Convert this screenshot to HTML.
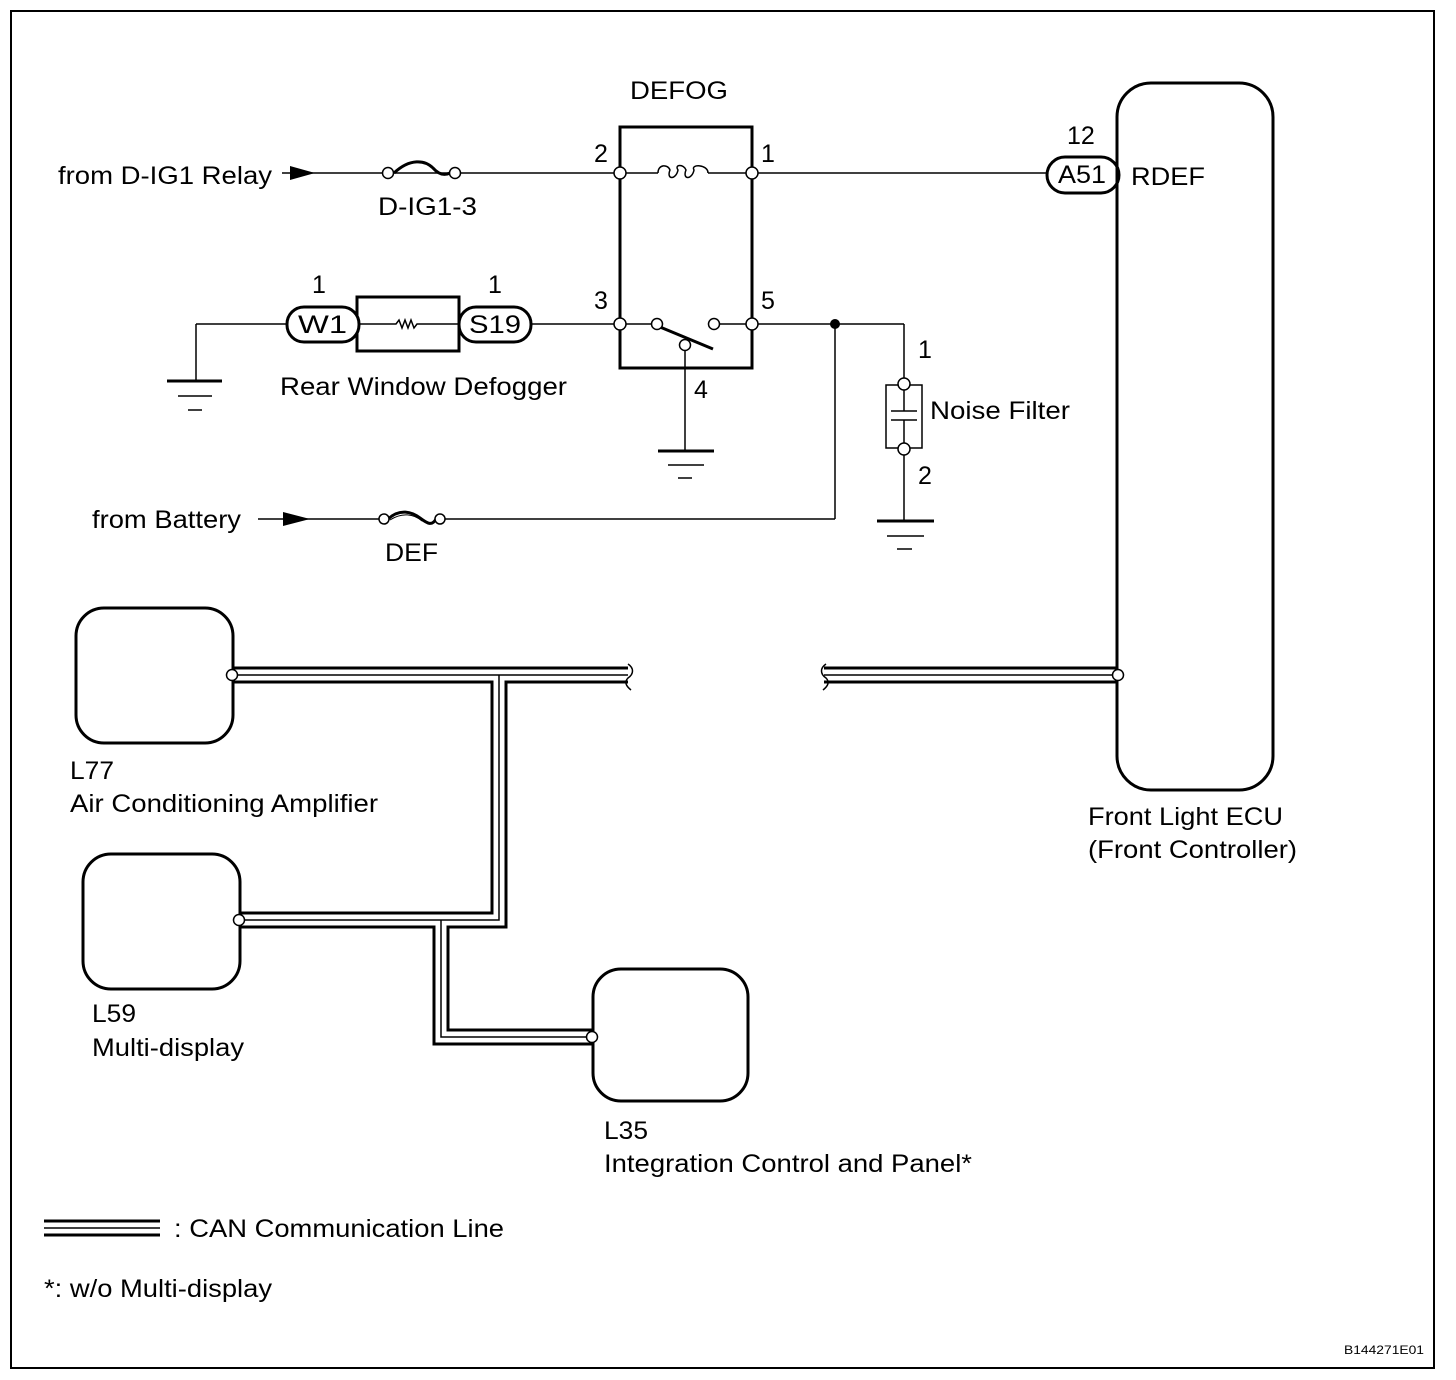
<!DOCTYPE html>
<html><head><style>
html,body{margin:0;padding:0;background:#fff}
svg{display:block}
text{font-family:"Liberation Sans",Arial,sans-serif;font-size:25px;fill:#000}
</style></head><body>
<svg width="1456" height="1380" viewBox="0 0 1456 1380" xmlns="http://www.w3.org/2000/svg">
<rect x="11" y="11" width="1423" height="1357" fill="none" stroke="#000" stroke-width="2"/>
<g fill="none" stroke="#000" stroke-width="1.5">
<line x1="282" y1="173" x2="658" y2="173"/>
<line x1="708" y1="173" x2="1047" y2="173"/>
<path d="M394 173 C410 158 425 160 433 168 C440 176 446 175 450 173" stroke-width="3"/>
<rect x="620" y="127" width="132" height="241" stroke-width="3"/>
<path d="M658 173 C658 164 668 164 670 170 C666 180 676 180 678 170 C674 164 684 164 686 170 C682 180 692 180 694 170 C690 164 708 164 708 173"/>
<line x1="620" y1="324" x2="652" y2="324"/>
<line x1="720" y1="324" x2="752" y2="324"/>
<line x1="660" y1="327" x2="713" y2="349" stroke-width="3"/>
<line x1="685" y1="348" x2="685" y2="451"/>
<line x1="658" y1="451" x2="714" y2="451" stroke-width="3"/>
<line x1="668" y1="465" x2="704" y2="465"/>
<line x1="678" y1="478" x2="692" y2="478"/>
<line x1="196" y1="324" x2="287" y2="324"/>
<line x1="196" y1="324" x2="196" y2="380"/>
<line x1="167" y1="381" x2="222" y2="381" stroke-width="3"/>
<line x1="178" y1="396" x2="212" y2="396"/>
<line x1="188" y1="410" x2="202" y2="410"/>
<rect x="357" y="297" width="102" height="54" stroke-width="3"/>
<path d="M357 324 H396 L399 320 L402 328 L405 320 L408 328 L411 320 L414 328 L417 324 H459"/>
<rect x="287" y="307" width="72" height="35" rx="17" stroke-width="3" fill="#fff"/>
<rect x="459" y="307" width="72" height="35" rx="17" stroke-width="3" fill="#fff"/>
<line x1="531" y1="324" x2="620" y2="324"/>
<line x1="752" y1="324" x2="904" y2="324"/>
<line x1="835" y1="324" x2="835" y2="519"/>
<line x1="904" y1="324" x2="904" y2="378"/>
<rect x="886" y="385" width="36" height="63"/>
<line x1="904" y1="390" x2="904" y2="411"/>
<line x1="904" y1="420" x2="904" y2="443"/>
<line x1="891" y1="411" x2="917" y2="411"/>
<line x1="891" y1="420" x2="917" y2="420"/>
<line x1="904" y1="455" x2="904" y2="521"/>
<line x1="877" y1="521" x2="934" y2="521" stroke-width="3"/>
<line x1="887" y1="536" x2="924" y2="536"/>
<line x1="897" y1="549" x2="912" y2="549"/>
<line x1="258" y1="519" x2="383" y2="519"/>
<line x1="440" y1="519" x2="835" y2="519"/>
<path d="M388 519 C400 508 412 512 420 518 C428 524 432 526 436 519" stroke-width="3"/>
<path d="M390 520 C402 512 414 514 422 521" stroke-width="1"/>
<rect x="1047" y="157" width="72" height="36" rx="18" stroke-width="3" fill="#fff"/>
<rect x="1117" y="83" width="156" height="707" rx="34" stroke-width="3"/>
<rect x="76" y="608" width="157" height="135" rx="28" stroke-width="3"/>
<rect x="83" y="854" width="157" height="135" rx="28" stroke-width="3"/>
<rect x="593" y="969" width="155" height="132" rx="28" stroke-width="3"/>
</g>
<polygon points="290,166 315,173 290,180" fill="#000"/>
<polygon points="283,512 310,519 283,526" fill="#000"/>
<g fill="#fff" stroke="#000" stroke-width="1.5">
<circle cx="388" cy="173" r="5.5"/><circle cx="455" cy="173" r="5.5"/>
<circle cx="620" cy="173" r="6"/><circle cx="752" cy="173" r="6"/>
<circle cx="620" cy="324" r="6"/><circle cx="752" cy="324" r="6"/>
<circle cx="657" cy="324" r="5.5"/><circle cx="714" cy="324" r="5.5"/>
<circle cx="685" cy="345" r="5.5"/>
<circle cx="904" cy="384" r="6"/><circle cx="904" cy="449" r="6"/>
<circle cx="384" cy="519" r="5"/><circle cx="440" cy="519" r="5"/>
</g>
<circle cx="835" cy="324" r="5" fill="#000"/>
<g fill="none" stroke-linejoin="miter">
<g stroke="#000" stroke-width="17">
<path d="M232 675 H628 M824 675 H1118 M499 675 V920 H239 M441 920 V1037 H592"/>
<path d="M44 1228 H160"/>
</g>
<g stroke="#fff" stroke-width="11">
<path d="M232 675 H628 M824 675 H1118 M499 675 V920 H239 M441 920 V1037 H592"/>
<path d="M44 1228 H160"/>
</g>
<g stroke="#000" stroke-width="1.5">
<path d="M232 675 H628 M824 675 H1118 M499 675 V920 H239 M441 920 V1037 H592"/>
<path d="M44 1228 H160"/>
</g>
<path d="M628 664 C634 668 634 674 628 678 C624 682 626 686 631 690" stroke="#000" stroke-width="1.5"/>
<path d="M826 664 C820 668 820 674 826 678 C830 682 828 686 823 690" stroke="#000" stroke-width="1.5"/>
</g>
<g fill="#fff" stroke="#000" stroke-width="1.5">
<circle cx="232" cy="675" r="5.5"/><circle cx="239" cy="920" r="5.5"/>
<circle cx="592" cy="1037" r="5.5"/><circle cx="1118" cy="675" r="5.5"/>
</g>
<text x="630" y="99" textLength="98" lengthAdjust="spacingAndGlyphs">DEFOG</text>
<text x="58" y="184" textLength="214" lengthAdjust="spacingAndGlyphs">from D-IG1 Relay</text>
<text x="378" y="215" textLength="99" lengthAdjust="spacingAndGlyphs">D-IG1-3</text>
<text x="594" y="162">2</text>
<text x="761" y="162">1</text>
<text x="594" y="309">3</text>
<text x="761" y="309">5</text>
<text x="694" y="398">4</text>
<text x="312" y="293">1</text>
<text x="488" y="293">1</text>
<text x="298" y="333" textLength="49" lengthAdjust="spacingAndGlyphs">W1</text>
<text x="469" y="333" textLength="52" lengthAdjust="spacingAndGlyphs">S19</text>
<text x="280" y="395" textLength="287" lengthAdjust="spacingAndGlyphs">Rear Window Defogger</text>
<text x="918" y="358">1</text>
<text x="918" y="484">2</text>
<text x="930" y="419" textLength="140" lengthAdjust="spacingAndGlyphs">Noise Filter</text>
<text x="92" y="528" textLength="149" lengthAdjust="spacingAndGlyphs">from Battery</text>
<text x="385" y="561" textLength="53" lengthAdjust="spacingAndGlyphs">DEF</text>
<text x="1067" y="144">12</text>
<text x="1058" y="183" textLength="48" lengthAdjust="spacingAndGlyphs">A51</text>
<text x="1131" y="185" textLength="74" lengthAdjust="spacingAndGlyphs">RDEF</text>
<text x="70" y="779" textLength="44" lengthAdjust="spacingAndGlyphs">L77</text>
<text x="70" y="812" textLength="308" lengthAdjust="spacingAndGlyphs">Air Conditioning Amplifier</text>
<text x="92" y="1022" textLength="44" lengthAdjust="spacingAndGlyphs">L59</text>
<text x="92" y="1056" textLength="152" lengthAdjust="spacingAndGlyphs">Multi-display</text>
<text x="604" y="1139" textLength="44" lengthAdjust="spacingAndGlyphs">L35</text>
<text x="604" y="1172" textLength="368" lengthAdjust="spacingAndGlyphs">Integration Control and Panel*</text>
<text x="1088" y="825" textLength="195" lengthAdjust="spacingAndGlyphs">Front Light ECU</text>
<text x="1088" y="858" textLength="209" lengthAdjust="spacingAndGlyphs">(Front Controller)</text>
<text x="174" y="1237" textLength="330" lengthAdjust="spacingAndGlyphs">: CAN Communication Line</text>
<text x="44" y="1297" textLength="228" lengthAdjust="spacingAndGlyphs">*: w/o Multi-display</text>
<text x="1344" y="1354" style="font-size:12px" textLength="80" lengthAdjust="spacingAndGlyphs">B144271E01</text>
</svg>
</body></html>
